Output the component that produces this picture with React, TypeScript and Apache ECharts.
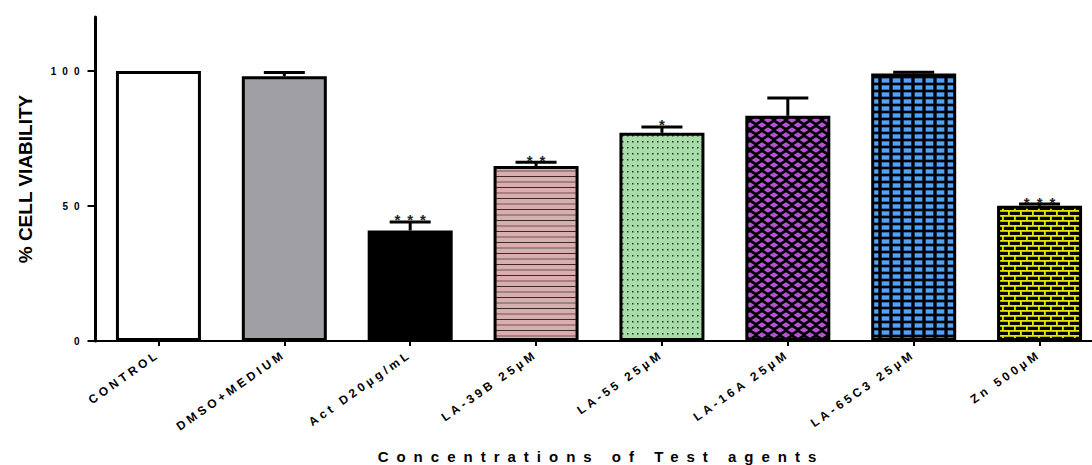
import React, { useEffect, useRef } from 'react';
import * as echarts from 'echarts';

const categories = ['CONTROL', 'DMSO+MEDIUM', 'Act D20µg/mL', 'LA-39B 25µM', 'LA-55 25µM', 'LA-16A 25µM', 'LA-65C3 25µM', 'Zn 500µM'];
const viability = [100, 98.1, 40.9, 64.8, 77.1, 83.4, 99.1, 50.1];
const sem = [0, 1.3, 3.2, 1.4, 2.2, 6.6, 0.4, 0.6];
const significance = ['', '', '***', '**', '*', '', '', '***'];
const yTicks = [0, 50, 100];
const yTitle = '% CELL VIABILITY';
const xTitle = 'Concentrations of Test agents';

const FONT = '"Liberation Sans", Arial, sans-serif';

type Draw = (ctx: CanvasRenderingContext2D, w: number, h: number) => void;
function makePattern(w: number, h: number, draw: Draw) {
  const c = document.createElement('canvas');
  c.width = w;
  c.height = h;
  const ctx = c.getContext('2d')!;
  draw(ctx, w, h);
  return { image: c, repeat: 'repeat', imageWidth: w, imageHeight: h };
}

function buildFills() {
  const pink = makePattern(4, 11, (ctx, w, h) => {
    ctx.fillStyle = '#D9AEAE';
    ctx.fillRect(0, 0, w, h);
    ctx.fillStyle = '#3a2a2a';
    ctx.fillRect(0, 0, w, 1);
    ctx.fillStyle = '#6e5555';
    ctx.fillRect(0, 5.5, w, 1);
  });
  const green = makePattern(5, 6, (ctx, w, h) => {
    ctx.fillStyle = '#A8DCA8';
    ctx.fillRect(0, 0, w, h);
    ctx.fillStyle = '#263626';
    ctx.fillRect(2, 3, 1.5, 1.5);
  });
  const purple = makePattern(12, 10, (ctx, w, h) => {
    ctx.fillStyle = '#000';
    ctx.fillRect(0, 0, w, h);
    ctx.fillStyle = '#B852D6';
    const dia = (cx: number, cy: number) => {
      ctx.beginPath();
      ctx.moveTo(cx - 4.4, cy);
      ctx.lineTo(cx, cy - 2.8);
      ctx.lineTo(cx + 4.4, cy);
      ctx.lineTo(cx, cy + 2.8);
      ctx.closePath();
      ctx.fill();
    };
    dia(0, 0); dia(w, 0); dia(0, h); dia(w, h); dia(w / 2, h / 2);
  });
  const blue = makePattern(11, 7, (ctx, w, h) => {
    ctx.fillStyle = '#000';
    ctx.fillRect(0, 0, w, h);
    ctx.fillStyle = '#2f6db0';
    ctx.fillRect(1.5, 1.2, 8, 4.6);
    ctx.fillStyle = '#52A2F6';
    ctx.fillRect(2, 1.7, 7, 3.6);
  });
  const yellow = makePattern(12, 10, (ctx, w, h) => {
    ctx.fillStyle = '#000';
    ctx.fillRect(0, 0, w, h);
    ctx.fillStyle = '#E6E600';
    ctx.fillRect(0, 0, w, 1.8);
    ctx.fillRect(0, 5, w, 1.8);
    ctx.fillRect(0, 0, 1.8, 5);
    ctx.fillRect(6, 5, 1.8, 5);
  });
  return ['#FFFFFF', '#A09FA4', '#000000', pink, green, purple, blue, yellow];
}

function applySpacing(root: HTMLElement) {
  const yTickStrings = yTicks.map(String);
  root.querySelectorAll('text').forEach((t) => {
    const s = (t.textContent || '').trim();
    let ls = 0;
    if (categories.includes(s)) ls = 3.5;
    else if (yTickStrings.includes(s)) ls = 6;
    else if (/^\*+$/.test(s)) ls = 7;
    else if (s === xTitle) ls = 8;
    if (ls) t.setAttribute('letter-spacing', String(ls));
  });
}

export default function App() {
  const ref = useRef<HTMLDivElement>(null);
  useEffect(() => {
    document.body.style.margin = '0';
    const el = ref.current!;
    const chart = echarts.init(el, null, { renderer: 'svg' });
    const fills = buildFills();

    chart.setOption({
      animation: false,
      textStyle: { fontFamily: FONT },
      grid: { left: 95.5, top: 17, width: 1007, height: 324, outerBoundsMode: 'none' },
      xAxis: {
        type: 'category',
        data: categories,
        axisLine: { show: true, lineStyle: { color: '#000', width: 2 } },
        axisTick: { show: true, alignWithLabel: true, length: 5, lineStyle: { color: '#000', width: 2 } },
        axisLabel: {
          interval: 0,
          rotate: 35,
          margin: 12,
          color: '#000',
          fontSize: 12,
          fontWeight: 'bold',
          fontFamily: FONT,
        },
        splitLine: { show: false },
      },
      yAxis: {
        type: 'value',
        min: 0,
        max: 120,
        interval: 50,
        name: yTitle,
        nameLocation: 'middle',
        nameGap: 61,
        nameTextStyle: { color: '#000', fontSize: 19, fontWeight: 'bold', fontFamily: FONT },
        axisLine: { show: true, lineStyle: { color: '#000', width: 3 } },
        axisTick: { show: true, length: 8, lineStyle: { color: '#000', width: 2 }, customValues: yTicks },
        axisLabel: {
          customValues: yTicks,
          margin: 10,
          color: '#000',
          fontSize: 10,
          fontWeight: 'bold',
          fontFamily: FONT,
        },
        splitLine: { show: false },
      },
      graphic: [
        {
          type: 'text',
          x: 601,
          y: 456,
          style: {
            text: xTitle,
            fill: '#000',
            font: `bold 15px ${FONT}`,
            align: 'center',
            verticalAlign: 'middle',
          },
        },
      ],
      series: [
        {
          type: 'bar',
          barWidth: 85,
          z: 2,
          data: viability.map((v, i) => ({
            value: v,
            itemStyle: { color: fills[i], borderColor: '#000', borderWidth: 3 },
          })),
        },
        {
          type: 'custom',
          z: 3,
          data: viability.map((v, i) => [i, v, sem[i]]),
          renderItem: (params: any, api: any) => {
            const i = params.dataIndex;
            const m = api.value(1);
            const e = api.value(2);
            const base = api.coord([api.value(0), m]);
            const top = api.coord([api.value(0), m + e]);
            const children: any[] = [];
            if (e > 0) {
              children.push({
                type: 'line',
                shape: { x1: base[0], y1: base[1], x2: top[0], y2: top[1] },
                style: { stroke: '#000', lineWidth: 3 },
              });
              children.push({
                type: 'line',
                shape: { x1: top[0] - 20.5, y1: top[1], x2: top[0] + 20.5, y2: top[1] },
                style: { stroke: '#000', lineWidth: 3 },
              });
            }
            const s = significance[i];
            if (s) {
              children.push({
                type: 'text',
                x: top[0] + 3.5,
                y: top[1] - 2,
                style: {
                  text: s,
                  fill: '#222',
                  font: `bold 15px ${FONT}`,
                  align: 'center',
                  verticalAlign: 'middle',
                },
              });
            }
            return { type: 'group', children };
          },
        },
      ],
    });
    applySpacing(el);
    chart.on('finished', () => applySpacing(el));
    return () => chart.dispose();
  }, []);
  return <div ref={ref} style={{ width: 1092, height: 465 }} />;
}
